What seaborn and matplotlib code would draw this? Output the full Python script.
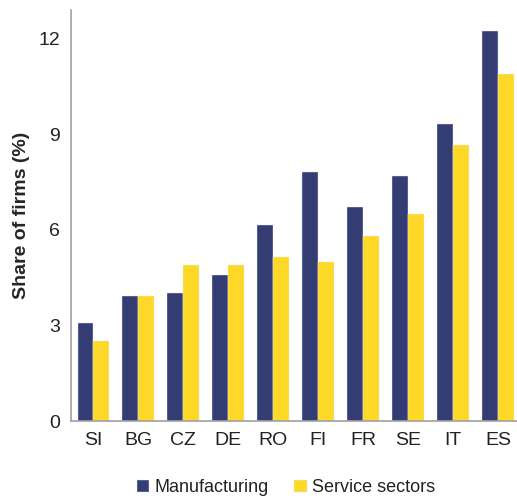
import matplotlib
matplotlib.use("Agg")
import matplotlib.pyplot as plt
import seaborn as sns
import pandas as pd

# data
countries = ["SI", "BG", "CZ", "DE", "RO", "FI", "FR", "SE", "IT", "ES"]
manufacturing = [3.07, 3.93, 4.03, 4.58, 6.14, 7.81, 6.73, 7.70, 9.32, 12.23]
services = [2.52, 3.93, 4.90, 4.90, 5.16, 5.00, 5.81, 6.51, 8.67, 10.88]
series_names = ["Manufacturing", "Service sectors"]

df = pd.DataFrame({
    "country": countries * 2,
    "value": manufacturing + services,
    "sector": [series_names[0]] * len(countries) + [series_names[1]] * len(countries),
})

sns.set_style("white")
plt.rcParams["font.family"] = ["Liberation Sans", "DejaVu Sans"]

fig = plt.figure(figsize=(5.17, 4.98), dpi=100)
ax = fig.add_axes([71 / 517, 1 - 421 / 498, 446 / 517, 411 / 498])

sns.barplot(data=df, x="country", y="value", hue="sector",
            palette=["#343C74", "#FDD826"], width=0.71,
            edgecolor="#e8e8f0", linewidth=0.3, saturation=1, ax=ax)

ax.set_xlim(-0.5, 9.42)
ax.set_ylim(0, 12.9)
ax.set_yticks([0, 3, 6, 9, 12])
ax.tick_params(axis="both", labelsize=14, labelcolor="#222222", length=0, pad=8)
ax.set_xlabel("")
ax.set_ylabel("Share of firms (%)", fontsize=14, fontweight="bold", labelpad=6)

for s in ["top", "right"]:
    ax.spines[s].set_visible(False)
for s in ["left", "bottom"]:
    ax.spines[s].set_color("#a0a0a0")
    ax.spines[s].set_linewidth(1.2)

ax.legend(loc="center", bbox_to_anchor=(0.482, -0.163), ncol=2, frameon=False,
          fontsize=13, handlelength=0.7, handleheight=0.7, handletextpad=0.3,
          columnspacing=1.4, labelcolor="#222222")

fig.savefig("out.png", dpi=100)
